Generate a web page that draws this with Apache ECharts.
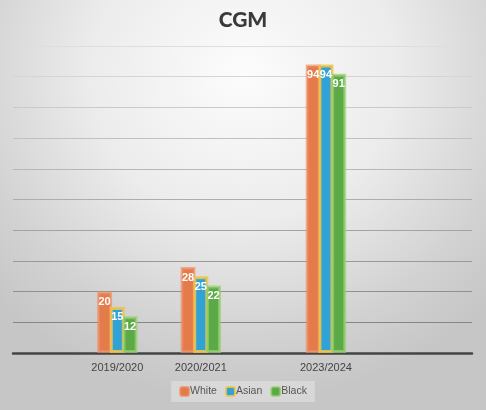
<!DOCTYPE html>
<html>
<head>
<meta charset="utf-8">
<script src="https://cdn.jsdelivr.net/npm/echarts@6/dist/echarts.min.js"></script>
<style>
  html, body { margin: 0; padding: 0; }
  body {
    width: 486px;
    height: 410px;
    background: radial-gradient(ellipse 70% 80% at 50% 18%, #fcfcfc 0%, #ececec 45%, #d2d2d2 80%, #c6c6c6 100%);
  }
  #chart { width: 486px; height: 410px; }
</style>
</head>
<body>
<div id="chart"></div>
<script>
// category slots, blank ones keep the uneven spacing of the original
const categories = ['', '', '2019/2020', '', '2020/2021', '', '', '2023/2024', '', '', '']
const whiteValues = [null, null, 20, null, 28, null, null, 94, null, null, null]
const asianValues = [null, null, 15, null, 25, null, null, 94, null, null, null]
const blackValues = [null, null, 12, null, 22, null, null, 91, null, null, null]

const chart = echarts.init(document.getElementById('chart'))

const gridColor = new echarts.graphic.LinearGradient(0, 46, 0, 353, [
  { offset: 0, color: '#dedede' },
  { offset: 1, color: '#7c7c7c' }
], true)

const barLabel = {
  show: true,
  position: 'insideTop',
  distance: 5,
  color: '#fff',
  fontSize: 11,
  fontWeight: 'bold',
  fontFamily: 'Liberation Sans'
}

const makeSeries = (name, data, color, halo) => ({
  name: name,
  type: 'bar',
  data: data,
  barWidth: 15,
  barGap: '-15%',
  itemStyle: {
    color: color,
    borderColor: halo,
    borderWidth: 3
  },
  label: barLabel
})

const option = {
  animation: false,
  title: {
    text: 'CGM',
    left: 'center',
    top: 5,
    textStyle: {
      fontFamily: 'Lato',
      fontWeight: 900,
      fontSize: 21,
      color: '#3a3a3a'
    }
  },
  legend: {
    bottom: 8,
    left: 'center',
    itemWidth: 9,
    itemHeight: 9,
    itemGap: 8,
    padding: [5, 8],
    backgroundColor: 'rgba(255,255,255,0.3)',
    textStyle: {
      fontFamily: 'Liberation Sans',
      fontSize: 10.5,
      color: '#555',
      padding: [0, 0, 0, -4]
    },
    data: ['White', 'Asian', 'Black']
  },
  grid: {
    left: 13,
    right: 14,
    top: 46,
    bottom: 57
  },
  xAxis: {
    type: 'category',
    data: categories,
    axisLine: { lineStyle: { color: '#444', width: 2.5 } },
    axisTick: { show: false },
    axisLabel: {
      interval: 0,
      margin: 9,
      color: '#444',
      fontSize: 11,
      fontFamily: 'Liberation Sans'
    }
  },
  yAxis: {
    type: 'value',
    min: 0,
    max: 100,
    interval: 10,
    axisLabel: { show: false },
    axisLine: { show: false },
    axisTick: { show: false },
    splitLine: { lineStyle: { color: gridColor, width: 1 } }
  },
  series: [
    makeSeries('White', whiteValues, '#e47b4b', 'rgba(238,140,100,0.65)'),
    makeSeries('Asian', asianValues, '#30a2d5', 'rgba(243,196,72,0.85)'),
    makeSeries('Black', blackValues, '#5ca947', 'rgba(150,208,110,0.7)')
  ]
}

chart.setOption(option)
</script>
</body>
</html>
